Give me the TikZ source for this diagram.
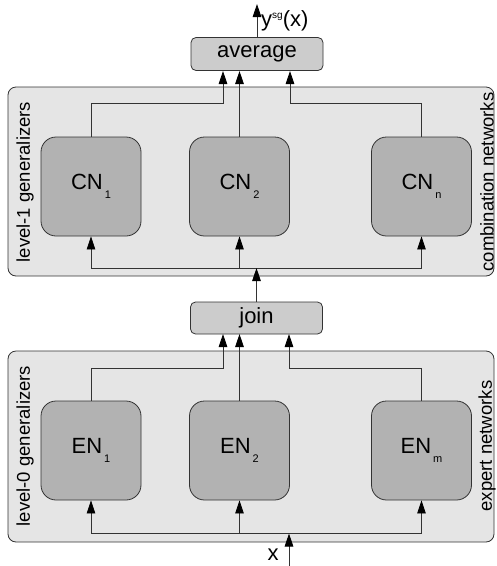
\documentclass[tikz,border=0pt]{standalone}
\usepackage{fontspec}
\setmainfont{Liberation Sans}
\usetikzlibrary{arrows.meta}
\newcommand\nsub[2]{#1\hspace{2pt}\raisebox{-9pt}{\fontsize{11}{11}\selectfont #2}}
\tikzset{
  panel/.style={draw=black!80, fill=black!10, rounded corners=8pt, line width=0.8pt, minimum width=486pt, inner sep=0pt},
  net/.style={draw=black!80, fill=black!30, rounded corners=15pt, line width=0.8pt, minimum width=100pt, minimum height=99pt, inner sep=0pt, font=\fontsize{22}{22}\selectfont},
  comb/.style={draw=black!80, fill=black!20, rounded corners=5pt, line width=0.8pt, minimum width=132pt, minimum height=33pt, inner sep=0pt, font=\fontsize{22}{22}\selectfont},
  link/.style={draw=black!80, line width=0.8pt},
  arr/.style={link, -{Triangle[length=13pt,width=8.5pt,fill=black,color=black]}},
  side/.style={rotate=90, font=\fontsize{18.5}{18.5}\selectfont, inner sep=0pt},
  lbl/.style={font=\fontsize{22}{22}\selectfont, inner sep=0pt}
}
\begin{document}
\begin{tikzpicture}[x=1pt,y=-1pt]
\useasboundingbox (0,0) rectangle (497,566);
% panels
\node[panel, minimum height=189pt] (P1) at (251,181.5) {};
\node[panel, minimum height=191pt] (P0) at (251,446.5) {};
\node[side] (L1) at (25,182) {level-1 generalizers};
\node[side] (R1) at (487,182) {combination networks};
\node[side] (L0) at (25,446) {level-0 generalizers};
\node[side] (R0) at (487,446) {expert networks};
% boxes
\node[comb] (avg) at (257,54) {average};
\node[comb, minimum height=32pt] (join) at (256.5,318) {join};
\node[net] (CN1) at (91,186.5) {\nsub{CN}{1}};
\node[net] (CN2) at (239.5,186.5) {\nsub{CN}{2}};
\node[net] (CNn) at (421.5,186.5) {\nsub{CN}{n}};
\node[net] (EN1) at (91,450.5) {\nsub{EN}{1}};
\node[net] (EN2) at (239.5,450.5) {\nsub{EN}{2}};
\node[net] (ENm) at (421.5,450.5) {\nsub{EN}{m}};
% coordinates
\coordinate (b1l) at (91,268);
\coordinate (b1m) at (256.5,268);
\coordinate (b1r) at (421.5,268);
\coordinate (b0l) at (91,533.5);
\coordinate (b0m) at (289,533.5);
\coordinate (b0r) at (421.5,533.5);
\coordinate (xin) at (289,566);
\coordinate (yout) at (257,4);
% output
\draw[arr] (avg.north) -- (yout);
\node[lbl, anchor=west] (ylab) at (261,21) {y\raisebox{8pt}{\fontsize{10}{10}\selectfont sg}(x)};
% upper combination lines
\draw[arr] (CN1.north) |- (223,103) -- (223,71);
\draw[arr] (CN2.north) -- (239.5,71);
\draw[arr] (CNn.north) |- (290,103) -- (290,71);
% upper bus
\draw[link] (b1l) -- (b1r);
\draw[arr] (b1l) -- (CN1.south);
\draw[arr] (239.5,268) -- (CN2.south);
\draw[arr] (b1r) -- (CNn.south);
\draw[arr] (join.north) -- (b1m);
% lower join lines
\draw[arr] (EN1.north) |- (223,368) -- (223,334);
\draw[arr] (EN2.north) -- (239.5,334);
\draw[arr] (ENm.north) |- (289,368) -- (289,334);
% lower bus
\draw[link] (b0l) -- (b0r);
\draw[arr] (b0l) -- (EN1.south);
\draw[arr] (239.5,533.5) -- (EN2.south);
\draw[arr] (b0r) -- (ENm.south);
\draw[arr] (xin) -- (b0m);
\node[lbl, anchor=base] (xlab) at (273,560) {x};
\end{tikzpicture}
\end{document}
